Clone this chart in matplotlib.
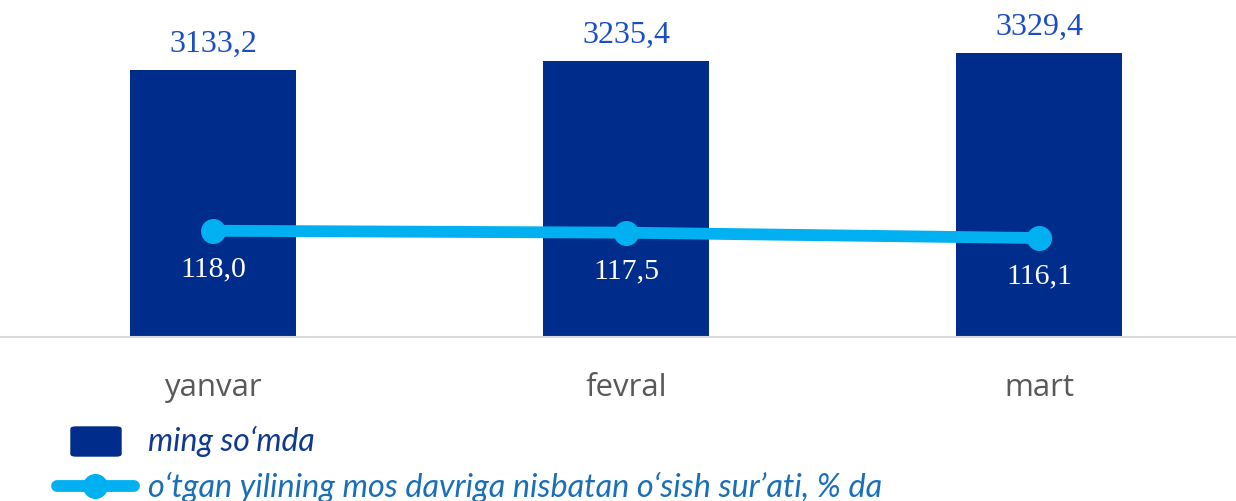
import matplotlib.pyplot as plt
from matplotlib.patches import FancyBboxPatch
from matplotlib.lines import Line2D

# data
months = ["yanvar", "fevral", "mart"]
wage = [3133.2, 3235.4, 3329.4]          # ming so'mda
growth = [118.0, 117.5, 116.1]           # % da
wage_lbl = ["3133,2", "3235,4", "3329,4"]
growth_lbl = ["118,0", "117,5", "116,1"]

C_BAR, C_LINE = "#002d8b", "#00b0f0"
C_TOP, C_TICK = "#1a4ec4", "#595959"
C_LEG1, C_LEG2 = "#0f3a8f", "#1a6fb9"
W, H = 1236, 502

fig = plt.figure(figsize=(W / 100, H / 100), dpi=100)
ax = fig.add_axes([0, (H - 338) / H, 1, 338 / H])
x = list(range(len(months)))
ax.bar(x, wage, width=0.4, color=C_BAR, zorder=2)
ax.set_xlim(-0.516, 2.477)
ax.set_ylim(0, 3966)
for xi, v, s in zip(x, wage, wage_lbl):
    ax.annotate(s, (xi, v), xytext=(0, 9), textcoords="offset points",
                ha="center", va="bottom", fontsize=23, color=C_TOP,
                family="Liberation Serif")
for sp in ["top", "right", "left"]:
    ax.spines[sp].set_visible(False)
ax.spines["bottom"].set_color("#d9d9d9")
ax.spines["bottom"].set_linewidth(1.5)
ax.set_yticks([])
ax.set_xticks(x)
ax.set_xticklabels(months, fontsize=22.5, color=C_TICK, family="Open Sans")
ax.tick_params(axis="x", length=0, pad=25)

ax2 = ax.twinx()
ax2.set_ylim(90.4, 178.2)
ax2.plot(x, growth, color=C_LINE, lw=8.5, marker="o", ms=17,
         solid_capstyle="round", zorder=3)
for xi, v, s in zip(x, growth, growth_lbl):
    ax2.annotate(s, (xi, v), xytext=(0, -27), textcoords="offset points",
                 ha="center", va="center", fontsize=21.5, color="white",
                 family="Liberation Serif")
ax2.axis("off")

# legend (drawn by hand to follow the layout)
fig.patches.append(FancyBboxPatch((71 / W, (H - 457) / H), 50 / W, 29 / H,
                                  boxstyle="round,pad=0,rounding_size=0.004",
                                  transform=fig.transFigure, color=C_BAR))
fig.lines.append(Line2D([57 / W, 134 / W], [(H - 487) / H] * 2,
                        transform=fig.transFigure, color=C_LINE, lw=8.5,
                        solid_capstyle="round"))
fig.lines.append(Line2D([95 / W], [(H - 487) / H], transform=fig.transFigure,
                        color=C_LINE, marker="o", ms=17))
fig.text(148 / W, (H - 441) / H, "ming so‘mda", fontsize=23, style="italic",
         color=C_LEG1, family="Lato", va="center")
fig.text(148 / W, (H - 487) / H,
         "o‘tgan yilining mos davriga nisbatan o‘sish sur’ati, % da",
         fontsize=23.3, style="italic", color=C_LEG2, family="Lato", va="center")

fig.savefig("out.png", dpi=100)
